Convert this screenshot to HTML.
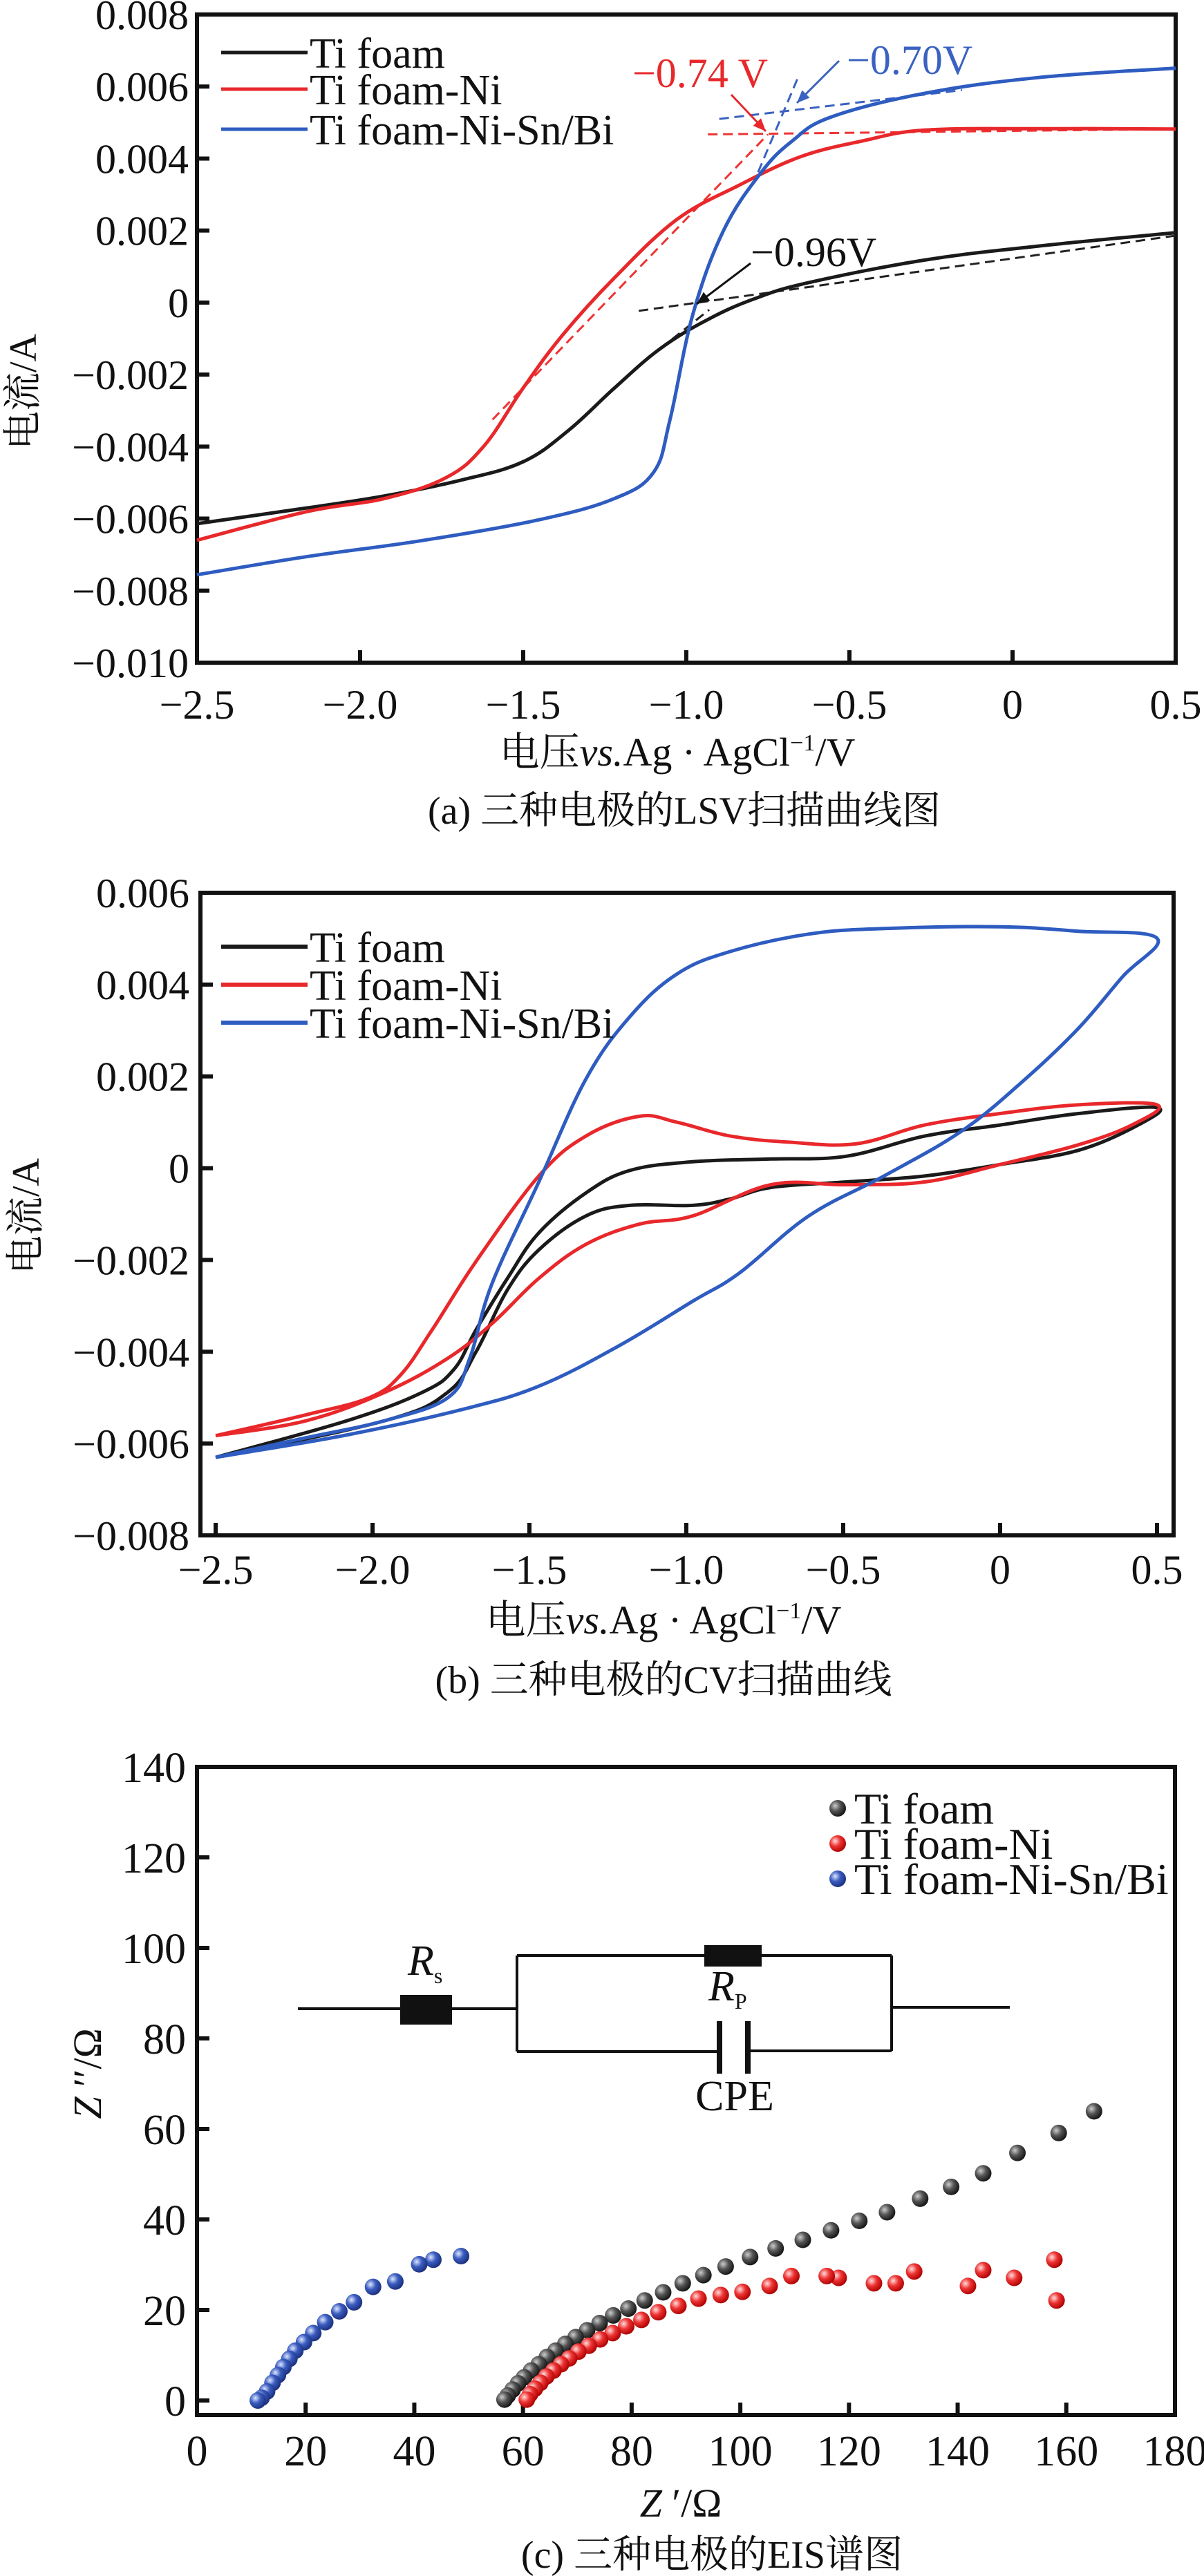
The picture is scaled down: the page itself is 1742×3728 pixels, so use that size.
<!DOCTYPE html>
<html><head><meta charset="utf-8"><style>
html,body{margin:0;padding:0;background:#fff}
svg{display:block}
svg text{font-family:"Liberation Serif","Noto Serif CJK SC",serif;fill:#111}
</style></head><body>
<svg id="fig" xmlns="http://www.w3.org/2000/svg" width="1742" height="3728" viewBox="0 0 1742 3728" font-family="Liberation Serif, Noto Serif CJK SC, serif">
<defs>
<radialGradient id="gk" cx="35%" cy="35%" r="70%"><stop offset="0" stop-color="#ccc"/><stop offset="0.45" stop-color="#555"/><stop offset="1" stop-color="#111"/></radialGradient>
<radialGradient id="gr" cx="35%" cy="35%" r="70%"><stop offset="0" stop-color="#fdd"/><stop offset="0.45" stop-color="#e33"/><stop offset="1" stop-color="#a00"/></radialGradient>
<radialGradient id="gb" cx="35%" cy="35%" r="70%"><stop offset="0" stop-color="#dde6ff"/><stop offset="0.45" stop-color="#3a5cc0"/><stop offset="1" stop-color="#1a2e7a"/></radialGradient>
</defs>
<g id="pa"></g>
<g id="pb"></g>
<g id="pc"></g>
</svg>
<script>
// ---------- Panel (a) LSV data ----------
const lsvTiV = [-2.5,-2.16,-1.925,-1.69,-1.5,-1.36,-1.22,-1.08,-0.934,-0.79,-0.627,-0.27,0.08,0.5];
const lsvTiI = [-0.00614,-0.0057,-0.00537,-0.00493,-0.00442,-0.00354,-0.00237,-0.00128,-0.00047,0.00011,0.00055,0.00118,0.00157,0.00194];
const lsvNiV = [-2.5,-2.16,-1.925,-1.736,-1.62,-1.5,-1.38,-1.22,-1.03,-0.84,-0.65,-0.46,-0.27,0.08,0.5];
const lsvNiI = [-0.0066,-0.0058,-0.00544,-0.00486,-0.00398,-0.00237,-0.00091,0.00069,0.0023,0.00325,0.00405,0.00449,0.00479,0.00483,0.00482];
const lsvSnV = [-2.5,-2.16,-1.81,-1.45,-1.22,-1.1,-1.05,-0.98,-0.886,-0.77,-0.675,-0.557,-0.27,0.08,0.5];
const lsvSnI = [-0.00756,-0.00705,-0.00661,-0.00603,-0.00544,-0.00471,-0.00325,-0.00033,0.002,0.00362,0.00449,0.00515,0.00581,0.00625,0.00651];
const lsvXTicks = [-2.5,-2.0,-1.5,-1.0,-0.5,0,0.5];
const lsvXLabels = ["\u22122.5","\u22122.0","\u22121.5","\u22121.0","\u22120.5","0","0.5"];
const lsvYTicks = [0.008,0.006,0.004,0.002,0,-0.002,-0.004,-0.006,-0.008,-0.010];
const lsvYLabels = ["0.008","0.006","0.004","0.002","0","\u22120.002","\u22120.004","\u22120.006","\u22120.008","\u22120.010"];

// ---------- Panel (b) CV data ----------
const cvTiV = [-2.5,-2.08,-1.84,-1.74,-1.67,-1.57,-1.47,-1.32,-1.18,-0.98,-0.73,-0.49,-0.24,0.0,0.25,0.5,0.44,0.25,0.0,-0.24,-0.49,-0.73,-0.86,-0.98,-1.18,-1.32,-1.47,-1.57,-1.67,-1.76,-1.96,-2.5];
const cvTiI = [-0.0063,-0.0055,-0.00488,-0.00438,-0.00352,-0.0024,-0.00141,-0.00054,-0.00005,0.00014,0.0002,0.00026,0.0007,0.00094,0.00119,0.00132,0.00094,0.00039,0.00008,-0.00017,-0.0003,-0.00042,-0.00067,-0.00081,-0.00081,-0.00104,-0.00178,-0.00265,-0.004,-0.00488,-0.0055,-0.0063];
const cvNiV = [-2.5,-2.21,-2.01,-1.91,-1.81,-1.67,-1.47,-1.32,-1.15,-1.03,-0.86,-0.68,-0.46,-0.24,0.0,0.25,0.5,0.42,0.25,0.0,-0.24,-0.49,-0.73,-0.98,-1.15,-1.32,-1.47,-1.62,-1.76,-1.96,-2.21,-2.5];
const cvNiI = [-0.00583,-0.00537,-0.005,-0.0045,-0.00352,-0.00203,-0.00017,0.0007,0.00113,0.001,0.0007,0.00057,0.00053,0.00094,0.00119,0.00138,0.00138,0.00094,0.00051,0.00008,-0.0003,-0.00036,-0.00036,-0.00104,-0.00122,-0.00166,-0.0024,-0.00339,-0.00414,-0.00488,-0.0055,-0.00583];
const cvSnV = [-2.5,-2.21,-1.96,-1.76,-1.69,-1.62,-1.47,-1.32,-1.18,-1.03,-0.86,-0.61,-0.37,0.0,0.25,0.5,0.39,0.25,0.08,-0.12,-0.37,-0.61,-0.83,-0.98,-1.22,-1.47,-1.71,-2.08,-2.5];
const cvSnI = [-0.0063,-0.00587,-0.0055,-0.005,-0.00414,-0.00253,-0.0003,0.00194,0.0033,0.00423,0.00472,0.0051,0.00522,0.00526,0.00516,0.00501,0.00417,0.00305,0.00194,0.00082,-0.00017,-0.00104,-0.00228,-0.0029,-0.00389,-0.00475,-0.00525,-0.00581,-0.0063];
const cvXTicks = [-2.5,-2.0,-1.5,-1.0,-0.5,0,0.5];
const cvXLabels = ["\u22122.5","\u22122.0","\u22121.5","\u22121.0","\u22120.5","0","0.5"];
const cvYTicks = [0.006,0.004,0.002,0,-0.002,-0.004,-0.006,-0.008];
const cvYLabels = ["0.006","0.004","0.002","0","\u22120.002","\u22120.004","\u22120.006","\u22120.008"];

// ---------- Panel (c) EIS data ----------
const eisTiRe = [165.1,158.6,151,144.7,138.8,133.1,127,121.9,116.7,111.5,106.5,101.8,97.3,93.2,89.4,85.8,82.4,79.4,76.6,74.1,71.8,69.7,67.8,66,64.4,62.9,61.5,60.2,59.1,58.1,57.2,56.6];
const eisTiIm = [63.9,59.1,54.7,50.2,47.2,44.6,41.6,39.7,37.6,35.5,33.6,31.7,29.6,27.7,25.9,23.9,22.1,20.3,18.8,17.1,15.5,14,12.5,11,9.6,8,6.6,5.1,3.8,2.4,1.1,0.2];
const eisNiRe = [157.8,158.2,150.4,144.7,141.9,132,128.6,124.6,118.1,115.9,109.4,105.4,100.4,96.4,92.3,88.6,84.9,81.8,79,76.5,74.2,72.1,70.2,68.5,67,65.6,64.3,63.2,62.2,61.3,60.7];
const eisNiIm = [31.1,22.1,27.1,28.8,25.3,28.5,25.9,25.9,27.1,27.5,27.5,25.3,24,23.3,22.5,20.9,19.5,17.8,16.4,14.9,13.5,12.1,10.8,9.3,8,6.6,5.3,3.9,2.6,1.4,0.2];
const eisSnRe = [48.6,43.5,40.9,36.5,32.4,28.9,26.2,23.6,21.4,19.7,18.1,17,15.9,14.9,13.9,12.9,11.9,11.2];
const eisSnIm = [31.9,31.1,30.1,26.3,25.1,21.7,19.7,17.3,14.9,12.9,11,9.2,7.4,5.6,3.9,2.0,0.6,0];
const eisXTicks = [0,20,40,60,80,100,120,140,160,180];
const eisYTicks = [0,20,40,60,80,100,120,140];

const NS = "http://www.w3.org/2000/svg";
const SERIF = '"Liberation Serif","Noto Serif CJK SC",serif';
function mk(parent, tag, attrs, txt){
  const e = document.createElementNS(NS, tag);
  for (const k in attrs) e.setAttribute(k, attrs[k]);
  if (tag === "text") e.style.fontFamily = SERIF;
  if (txt !== undefined) e.textContent = txt;
  parent.appendChild(e);
  return e;
}
function scale(d0,d1,p0,p1){ return v => p0 + (v-d0)/(d1-d0)*(p1-p0); }
// smooth Catmull-Rom path through data points
function pathD(xs, ys, X, Y){
  const P = xs.map((v,i)=>[X(v),Y(ys[i])]);
  let d = "M"+P[0][0].toFixed(1)+","+P[0][1].toFixed(1);
  for (let i=0;i<P.length-1;i++){
    const p0=P[Math.max(0,i-1)],p1=P[i],p2=P[i+1],p3=P[Math.min(P.length-1,i+2)];
    const t=0.18;
    const c1=[p1[0]+(p2[0]-p0[0])*t,p1[1]+(p2[1]-p0[1])*t];
    const c2=[p2[0]-(p3[0]-p1[0])*t,p2[1]-(p3[1]-p1[1])*t];
    d+=" C"+c1.map(v=>v.toFixed(1)).join(",")+" "+c2.map(v=>v.toFixed(1)).join(",")+" "+p2.map(v=>v.toFixed(1)).join(",");
  }
  return d;
}

function axesBox(g, L, T, R, B){
  const r = mk(g,"rect",{x:L,y:T,width:R-L,height:B-T,fill:"none",stroke:"#111","stroke-width":6});
  
  
}

// ===== Panel A =====
(function(){
  const g = document.getElementById('pa');
  const L=285,R=1701,T=21,B=959;
  const X = scale(-2.5,0.5,L,R), Y = scale(0.008,-0.010,T,B);
  axesBox(g,L,T,R,B);
  lsvYTicks.forEach((v,i)=>{
    const t = mk(g,"line",{x1:L,x2:L+18,y1:Y(v),y2:Y(v),stroke:"#111","stroke-width":6});
    
    
    const lb = mk(g,"text",{x:L-12,y:Y(v)+21,"text-anchor":"end","font-size":60},lsvYLabels[i]);
    
    
  });
  lsvXTicks.forEach((v,i)=>{
    const t = mk(g,"line",{x1:X(v),x2:X(v),y1:B,y2:B-18,stroke:"#111","stroke-width":6});
    
    
    const lb = mk(g,"text",{x:X(v),y:1040,"text-anchor":"middle","font-size":60},lsvXLabels[i]);
    
    
  });
  const dash = [["#222",-1.146,-0.00023,0.5,0.00186],["#222",-1.08,-0.00128,-0.93,-0.0002],["#e33",-0.934,0.00467,0.5,0.00482],["#e33",-1.594,-0.00325,-0.75,0.00467],["#3a62c0",-0.899,0.0051,-0.155,0.0059],["#3a62c0",-0.78,0.00362,-0.66,0.0062]];
  dash.forEach(d=>{
    const l = mk(g,"line",{x1:X(d[1]),y1:Y(d[2]),x2:X(d[3]),y2:Y(d[4]),stroke:d[0],"stroke-width":3,"stroke-dasharray":"14 8"});
    
    
  });
  const series = [[lsvTiV,lsvTiI,"#1a1a1a","ti-foam-curve"],[lsvNiV,lsvNiI,"#e8282b","ti-foam-ni-curve"],[lsvSnV,lsvSnI,"#2e5cc0","ti-foam-ni-sn-bi-curve"]];
  series.forEach(s=>{
    const p = mk(g,"path",{d:pathD(s[0],s[1],X,Y),fill:"none",stroke:s[2],"stroke-width":5,"stroke-linejoin":"round"});
    
    
  });
  const ann = [["\u22120.74 V",1013,126,"#e8282b","middle",1058,137,1108,190],["\u22120.70V",1225,107,"#3a62c0","start",1214,88,1153,149],["\u22120.96V",1086,385,"#111","start",1086,381,1008,440]];
  ann.forEach(a=>{
    const t = mk(g,"text",{x:a[1],y:a[2],"text-anchor":a[4],"font-size":60},a[0]);
    
    
    t.style.fill=a[3];
    const l = mk(g,"line",{x1:a[5],y1:a[6],x2:a[7],y2:a[8],stroke:a[3],"stroke-width":3});
    
    
    const ang = Math.atan2(a[8]-a[6],a[7]-a[5]);
    const hx=a[7],hy=a[8],s=20;
    const pts=[[hx,hy],[hx-s*Math.cos(ang-0.4),hy-s*Math.sin(ang-0.4)],[hx-s*Math.cos(ang+0.4),hy-s*Math.sin(ang+0.4)]];
    const h = mk(g,"polygon",{points:pts.map(p=>p.join(",")).join(" "),fill:a[3]});
    
    
  });
  const leg = [["Ti foam","#1a1a1a",76],["Ti foam-Ni","#e8282b",129],["Ti foam-Ni-Sn/Bi","#2e5cc0",187]];
  leg.forEach(e=>{
    const l = mk(g,"line",{x1:320,x2:445,y1:e[2],y2:e[2],stroke:e[1],"stroke-width":5});
    
    
    const t = mk(g,"text",{x:448,y:e[2]+22,"font-size":62},e[0]);
    
    
  });
  const yl = mk(g,"text",{x:0,y:0,transform:"translate(52,567) rotate(-90)","text-anchor":"middle","font-size":56},"电流/A");
  
  
  const xl = mk(g,"text",{x:980,y:1108,"text-anchor":"middle","font-size":58});
  xl.innerHTML = '电压<tspan font-style="italic">vs.</tspan>Ag · AgCl<tspan font-size="34" dy="-22">−1</tspan><tspan dy="22">/V</tspan>';
  
  
  const cap = mk(g,"text",{x:990,y:1192,"text-anchor":"middle","font-size":56},"(a) 三种电极的LSV扫描曲线图");
  
  
})();

// ===== Panel B =====
(function(){
  const g = document.getElementById('pb');
  const L=290,R=1698,T=1292,B=2222;
  const X = scale(-2.5,0.5,312,1674), Y = scale(0.006,-0.008,T,B);
  axesBox(g,L,T,R,B);
  cvYTicks.forEach((v,i)=>{
    const t = mk(g,"line",{x1:L,x2:L+18,y1:Y(v),y2:Y(v),stroke:"#111","stroke-width":6});
    
    
    const lb = mk(g,"text",{x:L-16,y:Y(v)+21,"text-anchor":"end","font-size":60},cvYLabels[i]);
    
    
  });
  cvXTicks.forEach((v,i)=>{
    const t = mk(g,"line",{x1:X(v),x2:X(v),y1:B,y2:B-18,stroke:"#111","stroke-width":6});
    
    
    const lb = mk(g,"text",{x:X(v),y:2292,"text-anchor":"middle","font-size":60},cvXLabels[i]);
    
    
  });
  const series = [[cvTiV,cvTiI,"#1a1a1a","ti-foam-cv-loop"],[cvNiV,cvNiI,"#e8282b","ti-foam-ni-cv-loop"],[cvSnV,cvSnI,"#2e5cc0","ti-foam-ni-sn-bi-cv-loop"]];
  series.forEach(s=>{
    const p = mk(g,"path",{d:pathD(s[0],s[1],X,Y),fill:"none",stroke:s[2],"stroke-width":5,"stroke-linejoin":"round"});
    
    
  });
  const leg = [["Ti foam","#1a1a1a",1370],["Ti foam-Ni","#e8282b",1425],["Ti foam-Ni-Sn/Bi","#2e5cc0",1480]];
  leg.forEach(e=>{
    const l = mk(g,"line",{x1:320,x2:445,y1:e[2],y2:e[2],stroke:e[1],"stroke-width":6});
    
    
    const t = mk(g,"text",{x:448,y:e[2]+22,"font-size":62},e[0]);
    
    
  });
  const yl = mk(g,"text",{x:0,y:0,transform:"translate(56,1760) rotate(-90)","text-anchor":"middle","font-size":56},"电流/A");
  
  
  const xl = mk(g,"text",{x:960,y:2364,"text-anchor":"middle","font-size":58});
  xl.innerHTML = '电压<tspan font-style="italic">vs.</tspan>Ag · AgCl<tspan font-size="34" dy="-22">−1</tspan><tspan dy="22">/V</tspan>';
  
  
  const cap = mk(g,"text",{x:960,y:2450,"text-anchor":"middle","font-size":56},"(b) 三种电极的CV扫描曲线");
  
  
})();

// ===== Panel C =====
(function(){
  const g = document.getElementById('pc');
  const L=285,R=1700,T=2557,B=3495;
  const X = scale(0,180,L,R), Y = scale(0,140,3474,T);
  axesBox(g,L,T,R,B);
  eisYTicks.forEach(v=>{
    const t = mk(g,"line",{x1:L,x2:L+18,y1:Y(v),y2:Y(v),stroke:"#111","stroke-width":6});
    
    
    const lb = mk(g,"text",{x:L-16,y:Y(v)+22,"text-anchor":"end","font-size":62},String(v));
    
    
  });
  eisXTicks.forEach(v=>{
    const t = mk(g,"line",{x1:X(v),x2:X(v),y1:B,y2:B-18,stroke:"#111","stroke-width":6});
    
    
    const lb = mk(g,"text",{x:X(v),y:3568,"text-anchor":"middle","font-size":62},String(v));
    
    
  });
  const cg = mk(g,"g",{stroke:"#111","stroke-width":4,fill:"none"});
  
  
  [[431,2907,579,2907],[654,2907,748,2907],[748,2830,748,2969],[748,2830,1019,2830],[1102,2830,1290,2830],[1290,2830,1290,2968],[1290,2905,1461,2905],[748,2969,1041,2969],[1082,2968,1290,2968]].forEach(s=>{
    const l = mk(cg,"line",{x1:s[0],y1:s[1],x2:s[2],y2:s[3]});
    
    
  });
  const r1 = mk(g,"rect",{x:579,y:2887,width:75,height:43,fill:"#111"});
  
  
  const r2 = mk(g,"rect",{x:1019,y:2815,width:83,height:31,fill:"#111"});
  
  
  [1041,1082].forEach(x=>{
    const l = mk(g,"line",{x1:x,y1:2925,x2:x,y2:3001,stroke:"#111","stroke-width":8});
    
    
  });
  const t1 = mk(g,"text",{x:590,y:2858,"font-size":62});
  t1.innerHTML='<tspan font-style="italic">R</tspan><tspan font-size="32" dy="12">s</tspan>';
  
  
  const t2 = mk(g,"text",{x:1025,y:2895,"font-size":62});
  t2.innerHTML='<tspan font-style="italic">R</tspan><tspan font-size="32" dy="12">P</tspan>';
  
  
  const t3 = mk(g,"text",{x:1063,y:3054,"text-anchor":"middle","font-size":62},"CPE");
  
  
  const series = [[eisTiRe,eisTiIm,"url(#gk)","ti-foam-point"],[eisNiRe,eisNiIm,"url(#gr)","ti-foam-ni-point"],[eisSnRe,eisSnIm,"url(#gb)","ti-foam-ni-sn-bi-point"]];
  series.forEach(s=>{
    s[0].forEach((v,i)=>{
      const c = mk(g,"circle",{cx:X(v),cy:Y(s[1][i]),r:12,fill:s[2]});
      
      
    });
  });
  const leg = [["Ti foam","url(#gk)",2617],["Ti foam-Ni","url(#gr)",2668],["Ti foam-Ni-Sn/Bi","url(#gb)",2719]];
  leg.forEach(e=>{
    const c = mk(g,"circle",{cx:1212,cy:e[2],r:12,fill:e[1]});
    
    
    const t = mk(g,"text",{x:1236,y:e[2]+22,"font-size":64},e[0]);
    
    
  });
  const yl = mk(g,"text",{x:0,y:0,transform:"translate(146,3001) rotate(-90)","text-anchor":"middle","font-size":58});
  yl.innerHTML='<tspan font-style="italic">Z</tspan> ′′/Ω';
  
  
  const xl = mk(g,"text",{x:985,y:3642,"text-anchor":"middle","font-size":58});
  xl.innerHTML='<tspan font-style="italic">Z</tspan> ′/Ω';
  
  
  const cap = mk(g,"text",{x:1030,y:3716,"text-anchor":"middle","font-size":56},"(c) 三种电极的EIS谱图");
  
  
})();
</script>
</body></html>
